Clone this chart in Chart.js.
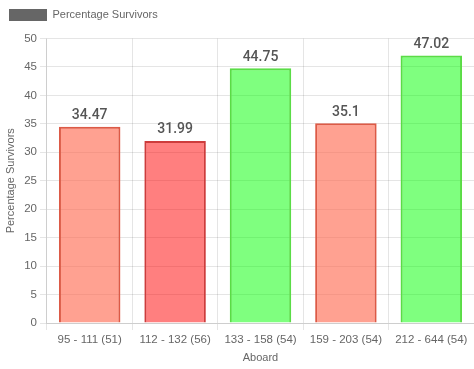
<!DOCTYPE html>
<html><head><meta charset="utf-8">
<script src="https://cdn.jsdelivr.net/npm/chart.js@4"></script>
<style>html,body{margin:0;padding:0;background:#fff}#w{width:474px;height:369px}</style>
</head><body><div id="w"><canvas id="c"></canvas></div>
<script>
const categories = ["95 - 111 (51)", "112 - 132 (56)", "133 - 158 (54)", "159 - 203 (54)", "212 - 644 (54)"];
const survivors = [34.47, 31.99, 44.75, 35.1, 47.02];
const fillColors = ["rgba(255,99,71,0.6)", "rgba(255,0,0,0.5)", "rgba(0,255,0,0.5)", "rgba(255,99,71,0.6)", "rgba(0,255,0,0.5)"];
const borderColors = ["rgb(220,90,70)", "rgb(205,60,60)", "rgb(90,220,70)", "rgb(220,90,70)", "rgb(90,220,70)"];

const valueLabels = {
  id: 'valueLabels',
  afterDatasetsDraw(chart) {
    const ctx = chart.ctx;
    const meta = chart.getDatasetMeta(0);
    ctx.save();
    ctx.font = "500 14px 'Roboto', 'Liberation Sans', Arial, sans-serif";
    ctx.fillStyle = '#555';
    ctx.textAlign = 'center';
    ctx.textBaseline = 'bottom';
    meta.data.forEach((bar, i) => {
      ctx.fillText(String(chart.data.datasets[0].data[i]), bar.x, bar.y - 4);
    });
    ctx.restore();
  }
};

const legendMargin = {
  id: 'legendMargin',
  beforeInit(chart) {
    const fit = chart.legend.fit;
    chart.legend.fit = function () { fit.call(this); this.height += 7.5; };
  }
};

Chart.defaults.font.family = "'Liberation Sans', Arial, sans-serif";
Chart.defaults.font.size = 11;
Chart.defaults.color = '#666';

new Chart(document.getElementById('c'), {
  type: 'bar',
  data: {
    labels: categories,
    datasets: [{
      label: 'Percentage Survivors',
      data: survivors,
      backgroundColor: fillColors,
      borderColor: borderColors,
      borderWidth: 2
    }]
  },
  options: {
    responsive: true,
    maintainAspectRatio: false,
    animation: false,
    plugins: {
      legend: {
        align: 'start',
        labels: {
          boxWidth: 38,
          boxHeight: 12,
          padding: 9,
          color: '#666',
          generateLabels() {
            return [{ text: 'Percentage Survivors', fillStyle: '#666', strokeStyle: '#666', fontColor: '#666', lineWidth: 0, datasetIndex: 0 }];
          }
        }
      },
      tooltip: { enabled: false }
    },
    scales: {
      x: {
        title: { display: true, text: 'Aboard', font: { size: 11 }, padding: { top: 2, bottom: 4 } },
        ticks: { font: { size: 11.5 } },
        grid: { color: 'rgba(0,0,0,0.1)', tickLength: 7 }
      },
      y: {
        min: 0, max: 50,
        ticks: { stepSize: 5, font: { size: 11.5 } },
        title: { display: true, text: 'Percentage Survivors', font: { size: 11 } },
        grid: { color: 'rgba(0,0,0,0.1)', tickLength: 7 }
      }
    }
  },
  plugins: [valueLabels, legendMargin]
});
</script></body></html>
